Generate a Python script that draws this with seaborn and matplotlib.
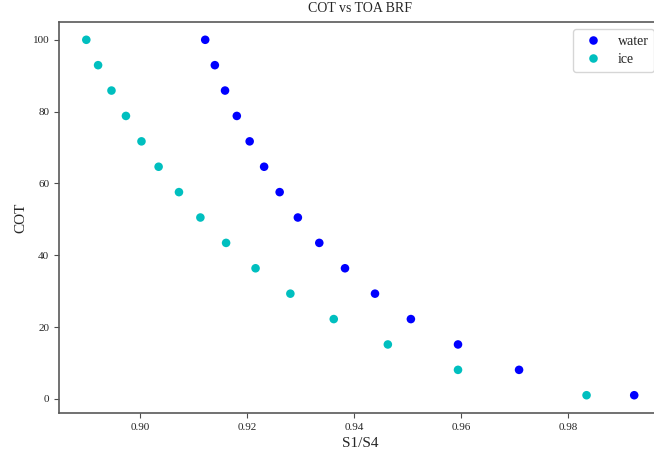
import matplotlib
matplotlib.use("Agg")
import matplotlib.pyplot as plt
import seaborn as sns
import pandas as pd

cot = [100.0, 92.93, 85.86, 78.79, 71.71, 64.64, 57.57, 50.5,
       43.43, 36.36, 29.29, 22.21, 15.14, 8.07, 1.0]
water_ratio = [0.9122, 0.9140, 0.9159, 0.9181, 0.9205, 0.9232, 0.9261, 0.9295,
               0.9335, 0.9383, 0.9439, 0.9506, 0.9594, 0.9708, 0.9923]
ice_ratio = [0.8900, 0.8922, 0.8947, 0.8974, 0.9003, 0.9035, 0.9073, 0.9113,
             0.9161, 0.9216, 0.9281, 0.9362, 0.9463, 0.9594, 0.9834]
phases = ["water", "ice"]
colors = {"water": "#0000ff", "ice": "#00bfbf"}

df = pd.DataFrame({
    "S1/S4": water_ratio + ice_ratio,
    "COT": cot + cot,
    "phase": ["water"] * len(cot) + ["ice"] * len(cot),
})

sns.set_style("ticks")
plt.rcParams["font.family"] = ["Liberation Serif", "DejaVu Serif"]

fig = plt.figure(figsize=(6.54, 4.53), dpi=100)
ax = fig.add_axes([0.0902, 0.0883, 0.9205, 0.8631])
sns.scatterplot(data=df, x="S1/S4", y="COT", hue="phase", hue_order=phases,
                palette=colors, s=38, linewidth=0, ax=ax)
ax.set_xlim(0.8849, 0.9973)
ax.set_ylim(-3.95, 104.95)
ax.set_xticks([0.90, 0.92, 0.94, 0.96, 0.98])
ax.set_xticklabels(["0.90", "0.92", "0.94", "0.96", "0.98"])
ax.set_yticks([0, 20, 40, 60, 80, 100])
ax.tick_params(labelsize=8, length=3.5, color=".3")
for s in ax.spines.values():
    s.set_color(".35")
    s.set_linewidth(1.2)
ax.set_title("COT vs TOA BRF", fontsize=10, pad=7)
ax.set_xlabel("S1/S4", fontsize=11)
ax.set_ylabel("COT", fontsize=11)
leg = ax.legend(loc="upper right", fontsize=10, title=None, frameon=True,
                labelspacing=0.4)
plt.savefig("out.png", dpi=100)
